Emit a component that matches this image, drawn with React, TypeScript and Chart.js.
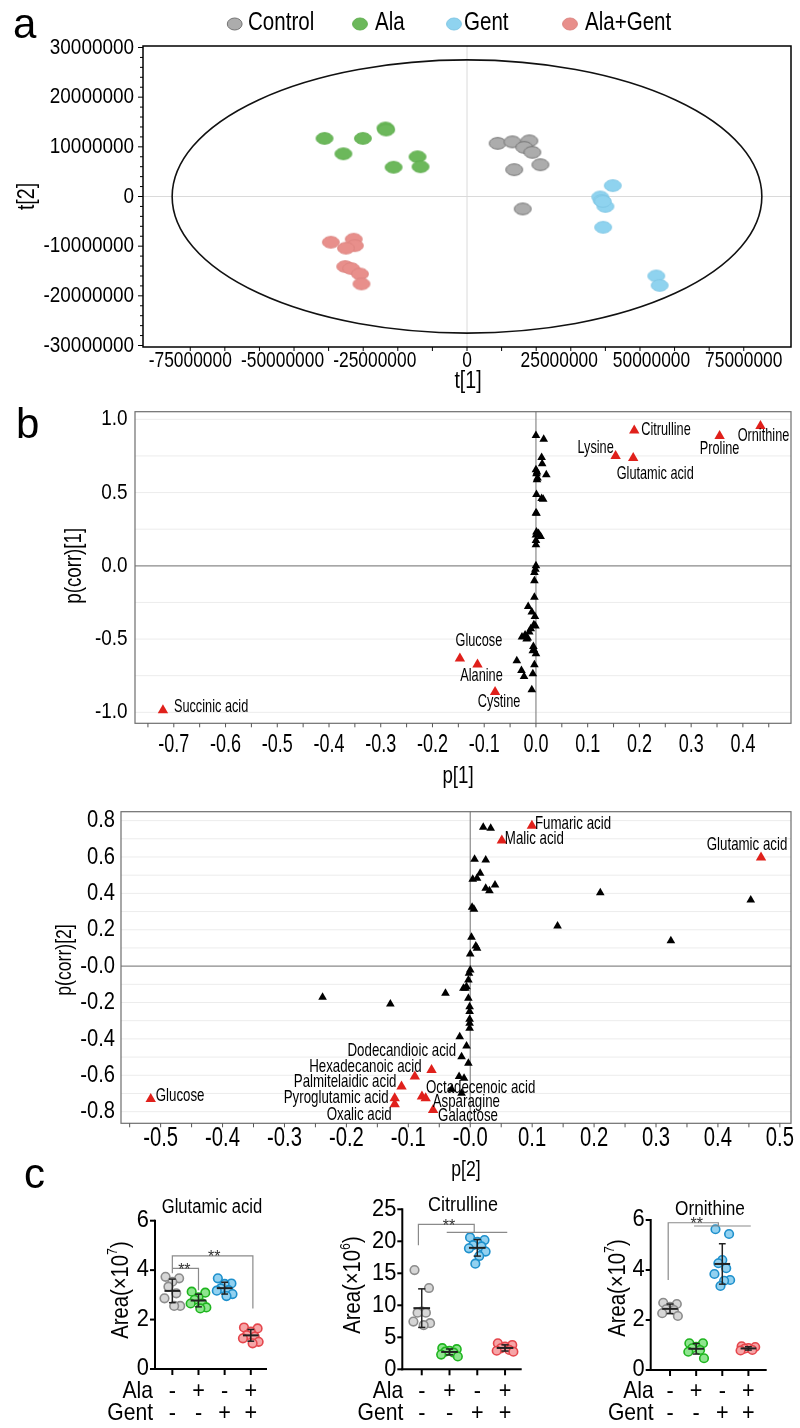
import React, { useEffect, useRef } from 'react';
import { Chart, registerables } from 'chart.js';

Chart.register(...registerables);

const PAGE_W = 800;
const PAGE_H = 1428;
const FONT = '"Liberation Sans", Arial, Helvetica, sans-serif';

/* ================= a : OPLS-DA score plot ================= */
const SCORE_GROUPS = ['Control', 'Ala', 'Gent', 'Ala+Gent'];
const SCORE_FILL = ['#acacac', '#6cb85b', '#8fd3ef', '#e88f8b'];
const SCORE_EDGE = ['#737373', '#5fae4e', '#7fc6e4', '#dc8480'];
const SCORE_UNIT = 1e6;
const CONTROL_T1 = [8.3, 12.3, 16.9, 15.5, 17.7, 19.9, 12.8, 15.1];
const CONTROL_T2 = [10.7, 11.0, 11.2, 9.9, 8.9, 6.4, 5.4, -2.5];
const ALA_T1 = [-38.6, -28.2, -22.1, -21.9, -33.5, -13.4, -19.9, -12.6];
const ALA_T2 = [11.7, 11.7, 13.8, 13.4, 8.6, 8.0, 5.9, 6.0];
const GENT_T1 = [39.5, 36.1, 36.5, 37.5, 36.8, 36.9, 51.3, 52.2];
const GENT_T2 = [2.2, -0.1, -0.8, -2.0, -1.0, -6.2, -16.0, -17.9];
const ALAGENT_T1 = [-36.9, -30.7, -30.4, -32.8, -33.0, -31.4, -29.0, -28.6];
const ALAGENT_T2 = [-9.2, -8.6, -9.9, -10.4, -14.1, -14.5, -15.6, -17.6];
const SCORE_T1 = [CONTROL_T1, ALA_T1, GENT_T1, ALAGENT_T1];
const SCORE_T2 = [CONTROL_T2, ALA_T2, GENT_T2, ALAGENT_T2];
const T1_RANGE = [-87.8e6, 87.8e6];
const T2_RANGE = [-30.3e6, 30.3e6];
const ELLIPSE_T1 = 79.9e6;
const ELLIPSE_T2 = 27.5e6;
const A_X_TICKS = [-75e6, -50e6, -25e6, 0, 25e6, 50e6, 75e6];
const A_X_LABELS = ['-75000000', '-50000000', '-25000000', '0', '25000000', '50000000', '75000000'];
const A_Y_TICKS = [30e6, 20e6, 10e6, 0, -10e6, -20e6, -30e6];
const A_Y_LABELS = ['30000000', '20000000', '10000000', '0', '-10000000', '-20000000', '-30000000'];

/* ================= b (top) : S-plot p[1] ================= */
const S1_RED_NAMES = ['Succinic acid', 'Glucose', 'Alanine', 'Cystine', 'Citrulline', 'Lysine', 'Glutamic acid', 'Proline', 'Ornithine'];
const S1_RED_P = [-0.721, -0.147, -0.113, -0.079, 0.19, 0.154, 0.188, 0.355, 0.434];
const S1_RED_PCORR = [-0.986, -0.633, -0.674, -0.861, 0.923, 0.749, 0.736, 0.886, 0.954];
const S1_BLACK_P = [0.0, 0.015, 0.011, 0.012, 0.0, 0.001, 0.02, 0.002, 0.002, 0.003, 0.001, 0.011, 0.014, 0.001, 0.0, 0.001, 0.005, 0.009, 0.0, 0.0, 0.0, 0.0, -0.001, -0.003, -0.003, -0.015, -0.003, -0.008, -0.002, -0.004, -0.001, -0.013, -0.021, -0.027, -0.016, -0.01, -0.018, -0.005, -0.004, -0.006, 0.0, -0.037, -0.003, -0.028, -0.023, -0.006, -0.008];
const S1_BLACK_PCORR = [0.889, 0.864, 0.739, 0.696, 0.655, 0.628, 0.621, 0.64, 0.587, 0.6, 0.487, 0.459, 0.455, 0.359, 0.36, 0.23, 0.22, 0.2, 0.21, 0.173, 0.143, 0.0, -0.023, -0.045, -0.102, -0.277, -0.214, -0.316, -0.346, -0.402, -0.41, -0.452, -0.473, -0.486, -0.493, -0.43, -0.5, -0.55, -0.573, -0.58, -0.6, -0.648, -0.675, -0.714, -0.755, -0.737, -0.846];
const S1_X_RANGE = [-0.775, 0.493];
const S1_Y_RANGE = [-1.075, 1.052];
const S1_X_TICKS = [-0.7, -0.6, -0.5, -0.4, -0.3, -0.2, -0.1, 0.0, 0.1, 0.2, 0.3, 0.4];
const S1_X_LABELS = ['-0.7', '-0.6', '-0.5', '-0.4', '-0.3', '-0.2', '-0.1', '0.0', '0.1', '0.2', '0.3', '0.4'];
const S1_Y_TICKS = [1.0, 0.5, 0.0, -0.5, -1.0];
const S1_Y_LABELS = ['1.0', '0.5', '0.0', '-0.5', '-1.0'];
// label placement (pixels from marker)
const S1_LABEL_DX = [11, 19, 4, 4, 7, -20, 22, 0, 3];
const S1_LABEL_DY = [-3, -18, 11, 10, -1, -8, 16, 13, 10];
const S1_LABEL_ALIGN: CanvasTextAlign[] = ['left', 'center', 'center', 'center', 'left', 'center', 'center', 'center', 'center'];

/* ================= b (bottom) : S-plot p[2] ================= */
const S2_RED_NAMES = ['Glucose', 'Fumaric acid', 'Malic acid', 'Glutamic acid', 'Hexadecanoic acid', 'Dodecandioic acid', 'Palmitelaidic acid', 'Pyroglutamic acid', 'Oxalic acid', 'Octadecenoic acid', 'Asparagine', 'Galactose'];
const S2_RED_P = [-0.516, 0.0996, 0.051, 0.4696, -0.0625, -0.0895, -0.111, -0.122, -0.122, -0.078, -0.072, -0.06];
const S2_RED_PCORR = [-0.73, 0.772, 0.69, 0.597, -0.571, -0.607, -0.662, -0.726, -0.759, -0.717, -0.726, -0.791];
const S2_BLACK_P = [0.021, 0.033, 0.007, 0.025, 0.016, 0.004, 0.011, 0.04, 0.025, 0.031, 0.21, 0.453, 0.141, 0.324, 0.003, 0.006, 0.002, 0.009, 0.011, 0.0, 0.0, -0.002, -0.003, -0.006, -0.008, -0.2385, -0.129, -0.04, -0.011, -0.003, -0.001, -0.001, -0.001, -0.001, -0.001, -0.017, -0.006, -0.014, -0.003, -0.018, -0.01, -0.03, -0.014];
const S2_BLACK_PCORR = [0.763, 0.758, 0.588, 0.584, 0.511, 0.478, 0.483, 0.446, 0.428, 0.415, 0.404, 0.364, 0.221, 0.14, 0.324, 0.313, 0.159, 0.111, 0.098, 0.067, -0.021, -0.039, -0.076, -0.113, -0.122, -0.171, -0.208, -0.149, -0.121, -0.176, -0.223, -0.25, -0.292, -0.314, -0.341, -0.388, -0.439, -0.498, -0.534, -0.607, -0.616, -0.677, -0.699];
const S2_X_RANGE = [-0.564, 0.518];
const S2_Y_RANGE = [-0.864, 0.849];
const S2_X_TICKS = [-0.5, -0.4, -0.3, -0.2, -0.1, 0.0, 0.1, 0.2, 0.3, 0.4, 0.5];
const S2_X_LABELS = ['-0.5', '-0.4', '-0.3', '-0.2', '-0.1', '-0.0', '0.1', '0.2', '0.3', '0.4', '0.5'];
const S2_Y_TICKS = [0.8, 0.6, 0.4, 0.2, 0.0, -0.2, -0.4, -0.6, -0.8];
const S2_Y_LABELS = ['0.8', '0.6', '0.4', '0.2', '-0.0', '-0.2', '-0.4', '-0.6', '-0.8'];
const S2_LABEL_DX = [5, 3, 3, -14, -10, -13, -5, -6, -3, 4, 7, 5];
const S2_LABEL_DY = [-3, -2, -2, -13, -3, -26, -5, 0, 11, -9, 4, 6];
const S2_LABEL_ALIGN: CanvasTextAlign[] = ['left', 'left', 'left', 'center', 'right', 'center', 'right', 'right', 'right', 'left', 'left', 'left'];

/* ================= c : dot plots ================= */
const C_GROUP_FILL = ['#d6d6d6', '#8fe58f', '#92d1f0', '#f6a5a7'];
const C_GROUP_EDGE = ['#8c8c8c', '#1fb51f', '#1e90cc', '#e5464c'];
const ALA_SIGNS = ['-', '+', '-', '+'];
const GENT_SIGNS = ['-', '-', '+', '+'];

const GLU_CONTROL = [3.67, 3.73, 3.53, 3.33, 3.06, 2.86, 2.55, 2.55];
const GLU_ALA = [3.13, 3.09, 2.9, 2.8, 2.65, 2.65, 2.49, 2.45];
const GLU_GENT = [3.67, 3.46, 3.44, 3.26, 3.19, 3.17, 3.03, 2.95];
const GLU_ALAGENT = [1.68, 1.64, 1.51, 1.37, 1.31, 1.24, 1.1, 1.04];
const GLU_Y_TICKS = [0, 2, 4, 6];

const CIT_CONTROL = [15.5, 12.7, 9.0, 8.85, 8.85, 7.45, 7.2, 6.9];
const CIT_ALA = [3.3, 3.15, 2.9, 2.75, 2.6, 2.3, 2.0];
const CIT_GENT = [20.6, 20.2, 19.9, 19.4, 19.2, 18.9, 18.4, 17.7, 16.5];
const CIT_ALAGENT = [4.06, 3.8, 3.54, 3.28, 3.02, 2.9, 2.76];
const CIT_Y_TICKS = [0, 5, 10, 15, 20, 25];

const ORN_CONTROL = [2.69, 2.64, 2.53, 2.43, 2.4, 2.27, 2.16];
const ORN_ALA = [1.07, 1.07, 0.93, 0.87, 0.8, 0.73, 0.47];
const ORN_GENT = [5.63, 5.44, 4.4, 4.27, 4.07, 3.84, 3.6, 3.57, 3.36];
const ORN_ALAGENT = [0.95, 0.92, 0.88, 0.85, 0.8, 0.78];
const ORN_Y_TICKS = [0, 2, 4, 6];

const GLU_BRACKETS = [
  { path: [[0, 3.87], [0, 4.58], [3.08, 4.58], [3.08, 2.45]], star: [1.6, 4.74] },
  { path: [[0, 4.07], [1.0, 4.07], [1.0, 3.19]], star: [0.46, 4.2] },
];
const CIT_BRACKETS = [
  { path: [[-0.12, 19.4], [-0.12, 22.66], [1.89, 22.66], [1.89, 21.4]], star: [0.98, 23.1] },
  { path: [[0.9, 21.4], [3.08, 21.4]], star: null },
];
const ORN_BRACKETS = [
  { path: [[-0.07, 3.6], [-0.07, 5.89], [1.85, 5.89], [1.85, 5.76]], star: [1.02, 6.03] },
  { path: [[0.92, 5.76], [3.09, 5.76]], star: null },
];

const JITTER = [-0.26, 0.26, 0, -0.15, 0.15, -0.3, 0.3, 0.07, -0.07];

/* ================= helpers ================= */
type Area = { l: number; t: number; r: number; b: number };

function drawText(ctx: CanvasRenderingContext2D, s: string, x: number, y: number, size: number, sx = 1, align: CanvasTextAlign = 'center', opt: any = {}) {
  ctx.save();
  ctx.translate(x, y);
  if (opt.rot) ctx.rotate(opt.rot);
  ctx.scale(sx, 1);
  ctx.font = `${size}px ${FONT}`;
  ctx.textAlign = align;
  ctx.textBaseline = opt.baseline || 'middle';
  ctx.fillStyle = opt.color || '#000';
  ctx.fillText(s, 0, 0);
  ctx.restore();
}

function seg(ctx: CanvasRenderingContext2D, x1: number, y1: number, x2: number, y2: number, color: string, w: number) {
  ctx.save();
  ctx.strokeStyle = color;
  ctx.lineWidth = w;
  ctx.beginPath();
  ctx.moveTo(x1, y1);
  ctx.lineTo(x2, y2);
  ctx.stroke();
  ctx.restore();
}

function ellipseImage(fill: string, edge: string, rx: number, ry: number) {
  const c = document.createElement('canvas');
  c.width = Math.ceil(rx * 2 + 3);
  c.height = Math.ceil(ry * 2 + 3);
  const x = c.getContext('2d') as CanvasRenderingContext2D;
  x.beginPath();
  x.ellipse(c.width / 2, c.height / 2, rx, ry, 0, 0, Math.PI * 2);
  x.fillStyle = fill;
  x.fill();
  x.lineWidth = 1;
  x.strokeStyle = edge;
  x.stroke();
  return c;
}

function makeChart(canvas: HTMLCanvasElement, area: Area, xr: number[], yr: number[], datasets: any[], under?: (c: any) => void, over?: (c: any) => void) {
  return new Chart(canvas, {
    type: 'scatter',
    data: { datasets },
    options: {
      animation: false,
      responsive: false,
      events: [],
      layout: { padding: { left: area.l, top: area.t, right: PAGE_W - area.r, bottom: PAGE_H - area.b } },
      plugins: { legend: { display: false }, tooltip: { enabled: false } },
      scales: {
        x: { type: 'linear', display: false, min: xr[0], max: xr[1] },
        y: { type: 'linear', display: false, min: yr[0], max: yr[1] },
      },
    },
    plugins: [
      {
        id: 'deco',
        beforeDatasetsDraw: (c: any) => { if (under) under(c); },
        afterDraw: (c: any) => { if (over) over(c); },
      },
    ],
  } as any);
}

function drawAreaTitle(ctx: CanvasRenderingContext2D, cx: number, cy: number, exp: string, size: number, sx: number) {
  ctx.save();
  ctx.translate(cx, cy);
  ctx.rotate(-Math.PI / 2);
  ctx.scale(sx, 1);
  const f1 = `${size}px ${FONT}`;
  const f2 = `${Math.round(size * 0.62)}px ${FONT}`;
  ctx.font = f1;
  const w1 = ctx.measureText('Area(×10').width;
  const w3 = ctx.measureText(')').width;
  ctx.font = f2;
  const w2 = ctx.measureText(exp).width;
  let x = -(w1 + w2 + w3) / 2;
  ctx.textBaseline = 'middle';
  ctx.textAlign = 'left';
  ctx.fillStyle = '#000';
  ctx.font = f1;
  ctx.fillText('Area(×10', x, 0);
  x += w1;
  ctx.font = f2;
  ctx.fillText(exp, x, -size * 0.36);
  x += w2;
  ctx.font = f1;
  ctx.fillText(')', x, 0);
  ctx.restore();
}

/* ================= panel builders ================= */
function buildA(canvas: HTMLCanvasElement) {
  const area = { l: 143, t: 46, r: 792, b: 347 };
  const imgs = SCORE_GROUPS.map((_, i) => ellipseImage(SCORE_FILL[i], SCORE_EDGE[i], 8.4, 5.8));
  const datasets = SCORE_GROUPS.map((g, i) => ({
    label: g,
    data: SCORE_T1[i].map((v, j) => ({ x: v * SCORE_UNIT, y: SCORE_T2[i][j] * SCORE_UNIT })),
    pointStyle: imgs[i],
    pointRadius: 8,
    clip: false,
  }));
  const under = (c: any) => {
    const ctx = c.ctx, a = c.chartArea, xs = c.scales.x, ys = c.scales.y;
    const x0 = xs.getPixelForValue(0), y0 = ys.getPixelForValue(0);
    seg(ctx, x0, a.top, x0, a.bottom, '#dadada', 1);
    seg(ctx, a.left, y0, a.right, y0, '#dadada', 1);
    const rx = xs.getPixelForValue(ELLIPSE_T1) - x0;
    const ry = y0 - ys.getPixelForValue(ELLIPSE_T2);
    ctx.save();
    ctx.beginPath();
    ctx.ellipse(x0, y0, rx, ry, 0, 0, Math.PI * 2);
    ctx.strokeStyle = '#111';
    ctx.lineWidth = 1.6;
    ctx.stroke();
    ctx.restore();
  };
  const over = (c: any) => {
    const ctx = c.ctx, a = c.chartArea, xs = c.scales.x, ys = c.scales.y;
    ctx.save();
    ctx.strokeStyle = '#000';
    ctx.lineWidth = 1.5;
    ctx.strokeRect(a.left, a.top, a.right - a.left, a.bottom - a.top);
    ctx.restore();
    for (let v = -30e6; v <= 30e6 + 1; v += 2e6) {
      const y = ys.getPixelForValue(v);
      const major = Math.abs(v % 10e6) < 1;
      seg(ctx, a.left - (major ? 5 : 3), y, a.left, y, '#000', 1);
    }
    for (let k = -8; k <= 8; k++) {
      const x = xs.getPixelForValue((k * 75e6) / 8);
      seg(ctx, x, a.bottom, x, a.bottom + 4, '#000', 1);
    }
    A_Y_TICKS.forEach((v, i) => drawText(ctx, A_Y_LABELS[i], a.left - 9, ys.getPixelForValue(v), 22, 0.86, 'right'));
    A_X_TICKS.forEach((v, i) => drawText(ctx, A_X_LABELS[i], xs.getPixelForValue(v), a.bottom + 14, 22, 0.79, 'center'));
    drawText(ctx, 't[2]', 28, (a.top + a.bottom) / 2, 23, 0.85, 'center', { rot: -Math.PI / 2 });
    drawText(ctx, 't[1]', 468, 382, 23, 0.85, 'center');
    // legend
    const lx = [234.7, 360, 454, 570];
    const tx = [248, 375, 464, 585];
    SCORE_GROUPS.forEach((g, i) => {
      ctx.save();
      ctx.beginPath();
      ctx.ellipse(lx[i], 24, 7.4, 6, 0, 0, Math.PI * 2);
      ctx.fillStyle = SCORE_FILL[i];
      ctx.fill();
      ctx.strokeStyle = SCORE_EDGE[i];
      ctx.lineWidth = 1;
      ctx.stroke();
      ctx.restore();
      drawText(ctx, g, tx[i], 23, 26, 0.79, 'left');
    });
    drawText(ctx, 'a', 13, 38, 42, 1, 'left', { baseline: 'alphabetic' });
  };
  return makeChart(canvas, area, T1_RANGE, T2_RANGE, datasets, under, over);
}

function buildSplot(canvas: HTMLCanvasElement, cfg: any) {
  const datasets = [
    {
      label: 'selected',
      data: cfg.redP.map((v: number, i: number) => ({ x: v, y: cfg.redPc[i] })),
      pointStyle: 'triangle',
      pointRadius: 6,
      backgroundColor: '#e0201b',
      borderWidth: 0,
      clip: false,
    },
    {
      label: 'other',
      data: cfg.blackP.map((v: number, i: number) => ({ x: v, y: cfg.blackPc[i] })),
      pointStyle: 'triangle',
      pointRadius: 5,
      backgroundColor: '#000',
      borderWidth: 0,
      clip: false,
    },
  ];
  const under = (c: any) => {
    const ctx = c.ctx, a = c.chartArea, xs = c.scales.x, ys = c.scales.y;
    for (let k = -cfg.gridN; k <= cfg.gridN; k++) {
      if (k === 0) continue;
      const y = ys.getPixelForValue(k * cfg.gridStep);
      seg(ctx, a.left, y, a.right, y, '#ececec', 1);
    }
    const x0 = xs.getPixelForValue(0), y0 = ys.getPixelForValue(0);
    seg(ctx, x0, a.top, x0, a.bottom, '#8a8a8a', 1.2);
    seg(ctx, a.left, y0, a.right, y0, '#8a8a8a', 1.2);
  };
  const over = (c: any) => {
    const ctx = c.ctx, a = c.chartArea, xs = c.scales.x, ys = c.scales.y;
    ctx.save();
    ctx.strokeStyle = '#6e6e6e';
    ctx.lineWidth = 1.2;
    ctx.strokeRect(a.left, a.top, a.right - a.left, a.bottom - a.top);
    ctx.restore();
    for (let k = cfg.minorFrom; k <= cfg.minorTo; k++) {
      const x = xs.getPixelForValue(k * 0.05);
      seg(ctx, x, a.bottom, x, a.bottom + 4, '#555', 1);
    }
    cfg.yTicks.forEach((v: number, i: number) => drawText(ctx, cfg.yLabels[i], a.left - cfg.yGap, ys.getPixelForValue(v), cfg.yFont, cfg.ySx, 'right'));
    cfg.xTicks.forEach((v: number, i: number) => drawText(ctx, cfg.xLabels[i], xs.getPixelForValue(v), a.bottom + cfg.xOff, cfg.xFont, cfg.xSx, 'center'));
    cfg.names.forEach((n: string, i: number) => {
      const x = xs.getPixelForValue(cfg.redP[i]) + cfg.dx[i];
      const y = ys.getPixelForValue(cfg.redPc[i]) + cfg.dy[i];
      drawText(ctx, n, x, y, 19, cfg.labelSx, cfg.align[i]);
    });
    drawText(ctx, cfg.yTitle, cfg.yTitlePos[0], cfg.yTitlePos[1], cfg.titleFont, cfg.titleSx, 'center', { rot: -Math.PI / 2 });
    drawText(ctx, cfg.xTitle, cfg.xTitlePos[0], cfg.xTitlePos[1], cfg.titleFont, cfg.titleSx, 'center');
    if (cfg.panel) drawText(ctx, cfg.panel, 16, 438, 42, 1, 'left', { baseline: 'alphabetic' });
  };
  return makeChart(canvas, cfg.area, cfg.xr, cfg.yr, datasets, under, over);
}

function swarm(values: number[], cat: number) {
  const order = values.map((_, i) => i).sort((p, q) => values[q] - values[p]);
  return order.map((idx, rank) => ({ x: cat + JITTER[rank % JITTER.length], y: values[idx] }));
}

function buildDot(canvas: HTMLCanvasElement, cfg: any) {
  const datasets = cfg.groups.map((vals: number[], k: number) => ({
    label: String(k),
    data: swarm(vals, k),
    pointRadius: 4.3,
    borderWidth: 1.6,
    backgroundColor: C_GROUP_FILL[k],
    borderColor: C_GROUP_EDGE[k],
    clip: false,
  }));
  const over = (c: any) => {
    const ctx = c.ctx, a = c.chartArea, xs = c.scales.x, ys = c.scales.y;
    const catW = xs.getPixelForValue(1) - xs.getPixelForValue(0);
    cfg.brackets.forEach((br: any) => {
      ctx.save();
      ctx.strokeStyle = '#8a8a8a';
      ctx.lineWidth = 1.2;
      ctx.beginPath();
      br.path.forEach((p: number[], i: number) => {
        const X = xs.getPixelForValue(p[0]), Y = ys.getPixelForValue(p[1]);
        if (i === 0) ctx.moveTo(X, Y);
        else ctx.lineTo(X, Y);
      });
      ctx.stroke();
      ctx.restore();
      if (br.star) drawText(ctx, '**', xs.getPixelForValue(br.star[0]), ys.getPixelForValue(br.star[1]) + 10, 16, 1, 'center', { baseline: 'alphabetic', color: '#333' });
    });
    cfg.groups.forEach((vals: number[], k: number) => {
      const n = vals.length;
      const m = vals.reduce((s, v) => s + v, 0) / n;
      const sd = Math.sqrt(vals.reduce((s, v) => s + (v - m) * (v - m), 0) / (n - 1));
      const xc = xs.getPixelForValue(k);
      const ym = ys.getPixelForValue(m);
      seg(ctx, xc - 0.3 * catW, ym, xc + 0.3 * catW, ym, '#222', 2);
      const yt = ys.getPixelForValue(m + sd), yb = ys.getPixelForValue(m - sd);
      seg(ctx, xc, yt, xc, yb, '#222', 1.5);
      seg(ctx, xc - 0.13 * catW, yt, xc + 0.13 * catW, yt, '#222', 1.5);
      seg(ctx, xc - 0.13 * catW, yb, xc + 0.13 * catW, yb, '#222', 1.5);
    });
    seg(ctx, a.left, a.top - 1, a.left, a.bottom + 1, '#000', 2);
    seg(ctx, a.left - 1, a.bottom, a.right, a.bottom, '#000', 2);
    cfg.yTicks.forEach((v: number) => {
      const y = ys.getPixelForValue(v);
      seg(ctx, a.left - 5, y, a.left, y, '#000', 2);
      drawText(ctx, String(v), a.left - 6, y, 23, 0.95, 'right');
    });
    cfg.groups.forEach((_: any, k: number) => {
      const x = xs.getPixelForValue(k);
      seg(ctx, x, a.bottom, x, a.bottom + 6, '#000', 2);
      drawText(ctx, ALA_SIGNS[k], x, 1391.7, 24, 0.9, 'center');
      drawText(ctx, GENT_SIGNS[k], x, 1413.3, 24, 0.9, 'center');
    });
    drawText(ctx, 'Ala', a.left + cfg.rowDx, 1391.7, 24, 0.88, 'right');
    drawText(ctx, 'Gent', a.left + cfg.rowDx, 1413.3, 24, 0.88, 'right');
    drawText(ctx, cfg.title, cfg.titlePos[0], cfg.titlePos[1], 20, cfg.titleSx, 'center');
    drawAreaTitle(ctx, cfg.areaPos[0], cfg.areaPos[1], cfg.exp, 23, 0.88);
    if (cfg.panel) drawText(ctx, cfg.panel, 24, 1188, 42, 1, 'left', { baseline: 'alphabetic' });
  };
  return makeChart(canvas, cfg.area, cfg.xr, cfg.yr, datasets, undefined, over);
}

/* ================= component ================= */
export default function App() {
  const r0 = useRef<HTMLCanvasElement>(null);
  const r1 = useRef<HTMLCanvasElement>(null);
  const r2 = useRef<HTMLCanvasElement>(null);
  const r3 = useRef<HTMLCanvasElement>(null);
  const r4 = useRef<HTMLCanvasElement>(null);
  const r5 = useRef<HTMLCanvasElement>(null);
  const refs = [r0, r1, r2, r3, r4, r5];

  useEffect(() => {
    const charts: any[] = [];
    charts.push(buildA(r0.current as HTMLCanvasElement));
    charts.push(
      buildSplot(r1.current as HTMLCanvasElement, {
        area: { l: 135, t: 411.7, r: 791, b: 723.3 },
        xr: S1_X_RANGE, yr: S1_Y_RANGE,
        redP: S1_RED_P, redPc: S1_RED_PCORR, blackP: S1_BLACK_P, blackPc: S1_BLACK_PCORR,
        names: S1_RED_NAMES, dx: S1_LABEL_DX, dy: S1_LABEL_DY, align: S1_LABEL_ALIGN, labelSx: 0.67,
        gridStep: 0.25, gridN: 4, minorFrom: -15, minorTo: 9,
        yTicks: S1_Y_TICKS, yLabels: S1_Y_LABELS, yGap: 7.5, yFont: 22, ySx: 0.86,
        xTicks: S1_X_TICKS, xLabels: S1_X_LABELS, xOff: 21.4, xFont: 25, xSx: 0.72,
        yTitle: 'p(corr)[1]', yTitlePos: [74.5, 565.8], xTitle: 'p[1]', xTitlePos: [458, 776.7],
        titleFont: 24, titleSx: 0.78, panel: 'b',
      })
    );
    charts.push(
      buildSplot(r2.current as HTMLCanvasElement, {
        area: { l: 121, t: 811.7, r: 791, b: 1123.3 },
        xr: S2_X_RANGE, yr: S2_Y_RANGE,
        redP: S2_RED_P, redPc: S2_RED_PCORR, blackP: S2_BLACK_P, blackPc: S2_BLACK_PCORR,
        names: S2_RED_NAMES, dx: S2_LABEL_DX, dy: S2_LABEL_DY, align: S2_LABEL_ALIGN, labelSx: 0.7,
        gridStep: 0.1, gridN: 8, minorFrom: -11, minorTo: 10,
        yTicks: S2_Y_TICKS, yLabels: S2_Y_LABELS, yGap: 6, yFont: 24, ySx: 0.84,
        xTicks: S2_X_TICKS, xLabels: S2_X_LABELS, xOff: 15, xFont: 27, xSx: 0.75,
        yTitle: 'p(corr)[2]', yTitlePos: [65, 960], xTitle: 'p[2]', xTitlePos: [466, 1170],
        titleFont: 22, titleSx: 0.8, panel: null,
      })
    );
    charts.push(
      buildDot(r3.current as HTMLCanvasElement, {
        area: { l: 155, t: 1220.7, r: 267, b: 1369 },
        xr: [-0.663, 3.62], yr: [0, 6],
        groups: [GLU_CONTROL, GLU_ALA, GLU_GENT, GLU_ALAGENT],
        yTicks: GLU_Y_TICKS, brackets: GLU_BRACKETS,
        title: 'Glutamic acid', titlePos: [212, 1207], titleSx: 0.83,
        areaPos: [121.7, 1290], exp: '7', rowDx: -2, panel: 'c',
      })
    );
    charts.push(
      buildDot(r4.current as HTMLCanvasElement, {
        area: { l: 402.3, t: 1209.3, r: 521.7, b: 1369.3 },
        xr: [-0.7, 3.6], yr: [0, 25],
        groups: [CIT_CONTROL, CIT_ALA, CIT_GENT, CIT_ALAGENT],
        yTicks: CIT_Y_TICKS, brackets: CIT_BRACKETS,
        title: 'Citrulline', titlePos: [463, 1205.5], titleSx: 0.9,
        areaPos: [354, 1285], exp: '6', rowDx: 1, panel: null,
      })
    );
    charts.push(
      buildDot(r5.current as HTMLCanvasElement, {
        area: { l: 650.7, t: 1220, r: 766.7, b: 1370 },
        xr: [-0.74, 3.7], yr: [0, 6],
        groups: [ORN_CONTROL, ORN_ALA, ORN_GENT, ORN_ALAGENT],
        yTicks: ORN_Y_TICKS, brackets: ORN_BRACKETS,
        title: 'Ornithine', titlePos: [710, 1209], titleSx: 0.86,
        areaPos: [618.5, 1288], exp: '7', rowDx: 3, panel: null,
      })
    );
    return () => charts.forEach((c) => c.destroy());
  }, []);

  return (
    <div style={{ position: 'absolute', left: 0, top: 0, width: PAGE_W, height: PAGE_H, background: '#fff', overflow: 'hidden' }}>
      {refs.map((r, i) => (
        <canvas
          key={i}
          ref={r}
          width={PAGE_W}
          height={PAGE_H}
          style={{ position: 'absolute', left: 0, top: 0, width: PAGE_W, height: PAGE_H }}
        />
      ))}
    </div>
  );
}
